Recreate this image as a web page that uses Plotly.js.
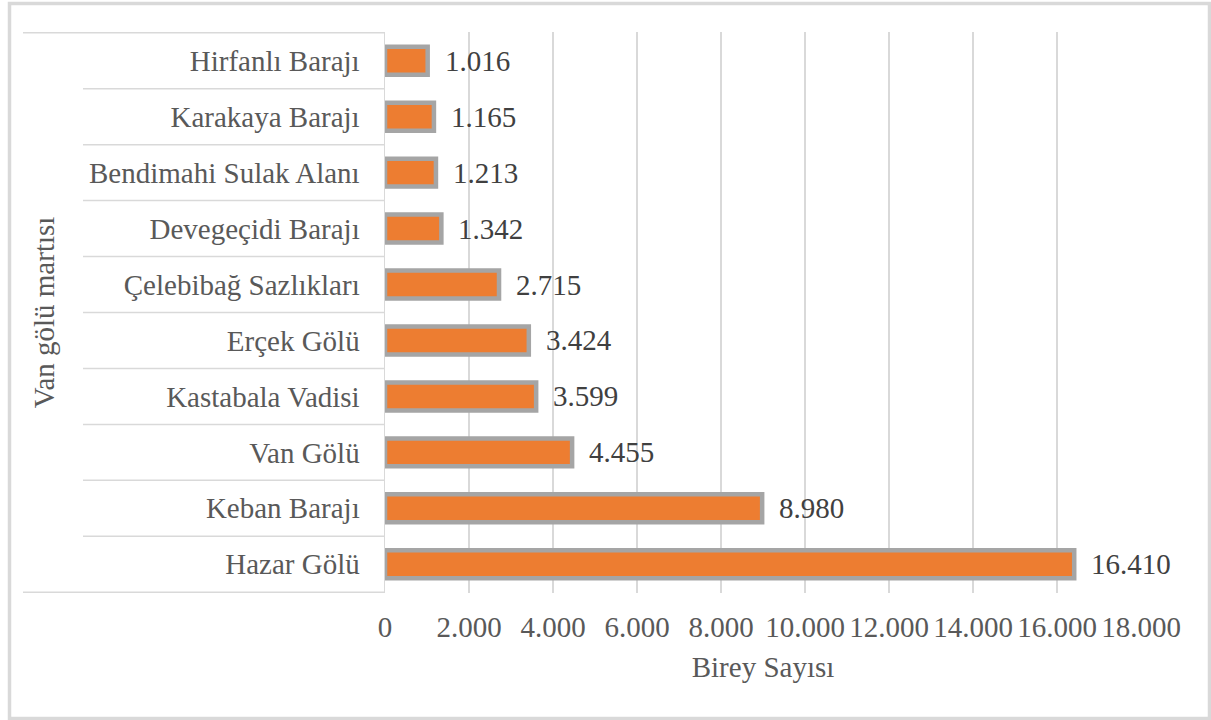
<!DOCTYPE html>
<html>
<head>
<meta charset="utf-8">
<script src="https://cdn.plot.ly/plotly-3.0.1.min.js"></script>
<style>html,body{margin:0;padding:0;background:#fff;}#chart{width:1211px;height:720px;}</style>
</head>
<body>
<div id="chart"></div>
<script>
// Data (bottom to top)
const categories = ["Hazar Gölü","Keban Barajı","Van Gölü","Kastabala Vadisi","Erçek Gölü","Çelebibağ Sazlıkları","Devegeçidi Barajı","Bendimahi Sulak Alanı","Karakaya Barajı","Hirfanlı Barajı"];
const values = [16410, 8980, 4455, 3599, 3424, 2715, 1342, 1213, 1165, 1016];
const xTickValues = [0,2000,4000,6000,8000,10000,12000,14000,16000,18000];
const xTitle = "Birey Sayısı";
const yTitle = "Van gölü martısı";

const W = 1211, H = 720;
const M = {l: 385, r: 70, t: 32, b: 127};
const pw = W - M.l - M.r, ph = H - M.t - M.b;
const px = x => (x - M.l) / pw;
const py = y => (H - M.b - y) / ph;

const fontFam = 'Liberation Serif, serif';
const fmt = v => String(Math.round(v)).replace(/\B(?=(\d{3})+(?!\d))/g, '.');

const trace = {
  type: 'bar', orientation: 'h',
  x: values, y: categories,
  width: 0.5,
  marker: {color: '#ED7D31', line: {color: '#A5A5A5', width: 4.5}},
  hoverinfo: 'none'
};

const shapes = [];
// outer chart border
shapes.push({type:'rect', xref:'paper', yref:'paper', x0:px(9.5), x1:px(1209.5), y0:py(718.5), y1:py(3.5), line:{color:'#D9D9D9', width:3.5}, layer:'below'});
// category separators
for (let i = 0; i <= categories.length; i++) {
  const outer = (i === 0 || i === categories.length);
  shapes.push({type:'line', xref:'paper', yref:'y', x0: px(outer ? 23 : 83), x1: 0, y0: i - 0.5, y1: i - 0.5, line:{color:'#D9D9D9', width:1.5}});
}

const annotations = categories.map((c, i) => ({
  x: values[i], y: c, xref: 'x', yref: 'y', text: fmt(values[i]),
  showarrow: false, xanchor: 'left', yanchor: 'middle', xshift: 15,
  font: {family: fontFam, size: 29, color: '#404040'}
}));

const layout = {
  width: W, height: H,
  margin: M,
  paper_bgcolor: '#fff', plot_bgcolor: '#fff',
  separators: ',.',
  showlegend: false,
  font: {family: fontFam, size: 29, color: '#595959'},
  xaxis: {
    range: [0, 18000], tickvals: xTickValues, tickformat: ',.0f',
    showgrid: true, gridcolor: '#D9D9D9', gridwidth: 1.5,
    zeroline: false, showline: false, ticks: '',
    ticklabelstandoff: 14,
    tickfont: {family: fontFam, size: 29, color: '#595959'},
    title: {text: xTitle, font: {family: fontFam, size: 29, color: '#595959'}, standoff: 14},
    fixedrange: true
  },
  yaxis: {
    type: 'category', categoryorder: 'array', categoryarray: categories,
    showgrid: false, zeroline: false,
    showline: true, linecolor: '#D9D9D9', linewidth: 1.5,
    ticks: '', ticklabelstandoff: 18,
    tickfont: {family: fontFam, size: 29, color: '#595959'},
    title: {text: yTitle, font: {family: fontFam, size: 29, color: '#595959'}, standoff: 26},
    automargin: false,
    fixedrange: true
  },
  shapes: shapes,
  annotations: annotations
};

Plotly.newPlot('chart', [trace], layout, {displayModeBar: false, staticPlot: true});
</script>
</body>
</html>
